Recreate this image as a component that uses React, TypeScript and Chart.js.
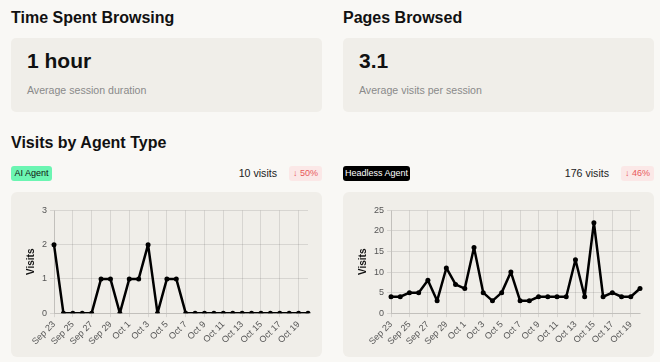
import React, { useEffect, useRef } from "react";
import { Chart, registerables } from "chart.js";

Chart.register(...registerables);

const dayLabels: string[] = [
  "Sep 23", "Sep 24", "Sep 25", "Sep 26", "Sep 27", "Sep 28", "Sep 29", "Sep 30",
  "Oct 1", "Oct 2", "Oct 3", "Oct 4", "Oct 5", "Oct 6", "Oct 7", "Oct 8",
  "Oct 9", "Oct 10", "Oct 11", "Oct 12", "Oct 13", "Oct 14", "Oct 15", "Oct 16",
  "Oct 17", "Oct 18", "Oct 19", "Oct 20",
];

const aiAgentVisits: number[] = [
  2, 0, 0, 0, 0, 1, 1, 0, 1, 1, 2, 0, 1, 1, 0, 0, 0, 0, 0, 0, 0, 0, 0, 0, 0, 0, 0, 0,
];

const headlessAgentVisits: number[] = [
  4, 4, 5, 5, 8, 3, 11, 7, 6, 16, 5, 3, 5, 10, 3, 3, 4, 4, 4, 4, 13, 4, 22, 4, 5, 4, 4, 6,
];

const aiYMax = 3;
const aiYStep = 1;
const headlessYMax = 25;
const headlessYStep = 5;

const FONT = "Arial, 'Liberation Sans', Helvetica, sans-serif";
const PAGE_BG = "#f9f8f5";
const CARD_BG = "#f0eee9";

function LineChart({ values, yMax, yStep }: { values: number[]; yMax: number; yStep: number }) {
  const ref = useRef<HTMLCanvasElement | null>(null);
  useEffect(() => {
    if (!ref.current) return;
    const chart = new Chart(ref.current, {
      type: "line",
      data: {
        labels: dayLabels,
        datasets: [
          {
            data: values,
            borderColor: "#000",
            backgroundColor: "#000",
            borderWidth: 2.5,
            borderJoinStyle: "round",
            borderCapStyle: "round",
            pointRadius: 2.5,
            pointBorderWidth: 0,
            pointBackgroundColor: "#000",
            pointBorderColor: "#000",
            tension: 0,
            fill: false,
          },
        ],
      },
      options: {
        animation: false,
        responsive: true,
        maintainAspectRatio: false,
        layout: { padding: 0 },
        plugins: { legend: { display: false }, tooltip: { enabled: false } },
        scales: {
          x: {
            grid: { color: "rgba(0,0,0,0.1)", tickLength: 4 },
            ticks: {
              autoSkip: false,
              minRotation: 45,
              maxRotation: 45,
              color: "#555",
              font: { family: FONT, size: 9 },
              padding: 2,
              callback: (_v: any, i: number) => (i % 2 === 0 ? dayLabels[i] : null),
            },
          },
          y: {
            min: 0,
            max: yMax,
            grid: { color: "rgba(0,0,0,0.1)", tickLength: 4 },
            ticks: {
              stepSize: yStep,
              color: "#555",
              font: { family: FONT, size: 9 },
              padding: 3,
            },
            title: {
              display: true,
              text: "Visits",
              color: "#111",
              font: { family: FONT, size: 10, weight: "bold" },
              padding: 2,
            },
          },
        },
      },
    });
    return () => chart.destroy();
  }, [values, yMax, yStep]);
  return (
    <div style={{ position: "absolute", left: 12, top: 10, width: 289, height: 147 }}>
      <canvas ref={ref} />
    </div>
  );
}

function StatCard({ left, title, value, caption }: { left: number; title: string; value: string; caption: string }) {
  return (
    <>
      <div style={{ position: "absolute", left, top: 8, fontSize: 16, lineHeight: "20px", fontWeight: 700, color: "#111" }}>{title}</div>
      <div style={{ position: "absolute", left, top: 38, width: 311, height: 74, background: CARD_BG, borderRadius: 5 }}>
        <div style={{ position: "absolute", left: 16, top: 10, fontSize: 21, lineHeight: "26px", fontWeight: 700, color: "#111" }}>{value}</div>
        <div style={{ position: "absolute", left: 16, top: 45, fontSize: 10.6, lineHeight: "14px", color: "#8a8a8a" }}>{caption}</div>
      </div>
    </>
  );
}

function AgentPanel({
  left, name, badgeBg, badgeColor, badgeWidth, visits, change, values, yMax, yStep,
}: {
  left: number; name: string; badgeBg: string; badgeColor: string; badgeWidth: number;
  visits: string; change: string; values: number[]; yMax: number; yStep: number;
}) {
  return (
    <>
      <div style={{ position: "absolute", left, top: 166, width: badgeWidth, height: 15, background: badgeBg, color: badgeColor, borderRadius: 3, fontSize: 9, lineHeight: "15px", textAlign: "center" }}>{name}</div>
      <div style={{ position: "absolute", left: left + 311 - 33 - 12 - 120, top: 166, width: 120, textAlign: "right", fontSize: 10.6, lineHeight: "15px", color: "#222" }}>{visits}</div>
      <div style={{ position: "absolute", left: left + 311 - 33, top: 166, width: 33, height: 15, background: "#fbe8e7", color: "#e8595a", borderRadius: 3, fontSize: 9, lineHeight: "15px", textAlign: "center" }}>{change}</div>
      <div style={{ position: "absolute", left, top: 192, width: 311, height: 165, background: CARD_BG, borderRadius: 6 }}>
        <LineChart values={values} yMax={yMax} yStep={yStep} />
      </div>
    </>
  );
}

export default function App() {
  return (
    <div style={{ position: "absolute", left: 0, top: 0, width: 660, height: 362, background: PAGE_BG, fontFamily: FONT, overflow: "hidden" }}>
      <StatCard left={11} title="Time Spent Browsing" value="1 hour" caption="Average session duration" />
      <StatCard left={343} title="Pages Browsed" value="3.1" caption="Average visits per session" />
      <div style={{ position: "absolute", left: 11, top: 133, fontSize: 16, lineHeight: "20px", fontWeight: 700, color: "#111" }}>Visits by Agent Type</div>
      <AgentPanel left={11} name="AI Agent" badgeBg="#6cf5b2" badgeColor="#111" badgeWidth={41} visits="10 visits" change="↓ 50%" values={aiAgentVisits} yMax={aiYMax} yStep={aiYStep} />
      <AgentPanel left={343} name="Headless Agent" badgeBg="#000" badgeColor="#fff" badgeWidth={67} visits="176 visits" change="↓ 46%" values={headlessAgentVisits} yMax={headlessYMax} yStep={headlessYStep} />
    </div>
  );
}
